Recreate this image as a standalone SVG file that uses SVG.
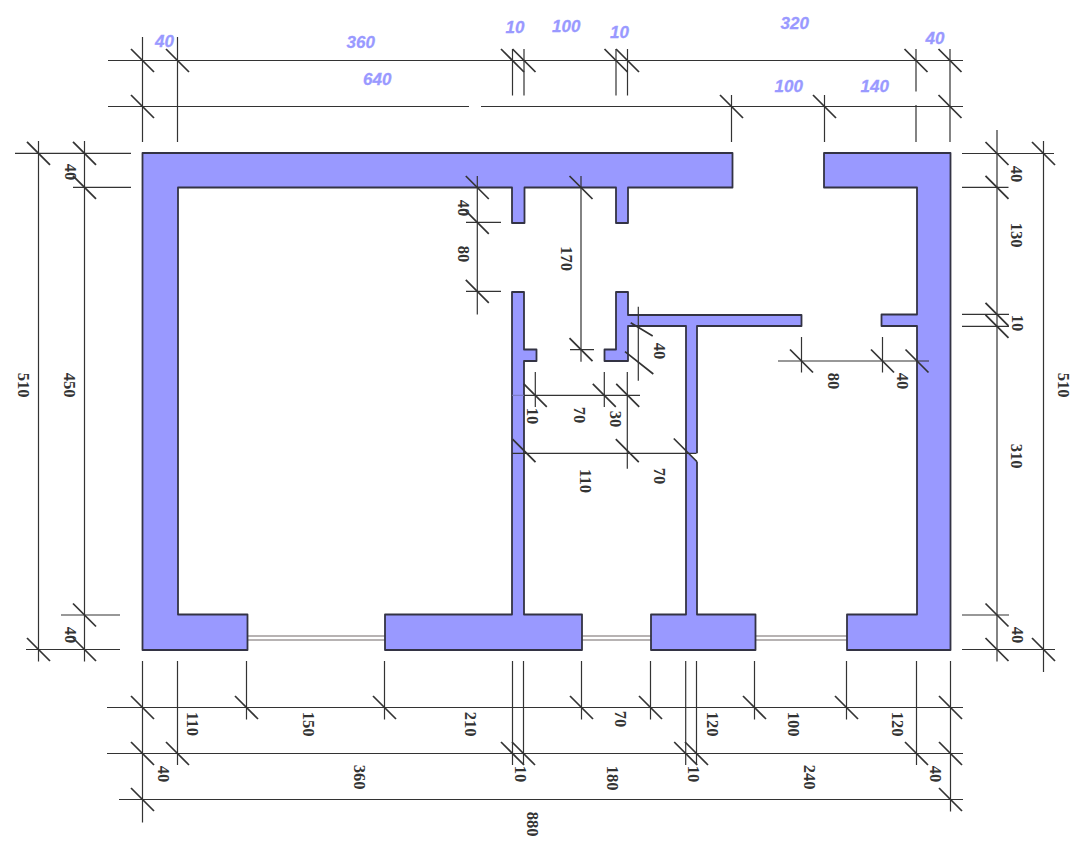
<svg xmlns="http://www.w3.org/2000/svg" width="1074" height="854" viewBox="0 0 1074 854">
<style>
.wall{fill:#9999ff;stroke:#333344;stroke-width:1.8;stroke-linejoin:round}
.dim{fill:none;stroke:#333;stroke-width:1.2}
.tick{fill:none;stroke:#333;stroke-width:1.7}
.faint{fill:none;stroke:#7777bb;stroke-width:1}
.win{fill:none;stroke:#a09a9a;stroke-width:1.5}
.winw{fill:none;stroke:#fff;stroke-width:1.5}
.b{font-family:"Liberation Sans",Arial,sans-serif;font-size:17px;font-weight:bold;font-style:italic;fill:#9999ff;stroke:#9999ff;stroke-width:.3}
.k{font-family:"Liberation Serif","Times New Roman",serif;font-size:16.5px;font-weight:bold;fill:#333;text-anchor:middle}
</style>
<defs><path id="t" class="tick" d="M-11.5-11.5L11.5 11.5"/></defs>
<rect width="1074" height="854" fill="#fff"/>
<g id="windows">
<path class="win" d="M248 636H385M248 640H385M582 636H651M582 640H651M755 636H847M755 640H847"/>
<path class="winw" d="M248 638H385M582 638H651M755 638H847"/>
</g>
<g id="walls">
<path id="wall-left" class="wall" d="M142.5 153H732.5V187.5H628V223H616V187.5H524.5V223H512V187.5H178V614.5H247.5V650H142.5Z"/>
<path id="wall-right" class="wall" d="M824 153H950.5V650H847V614.5H917V326H881.5V314.5H917V187.5H824Z"/>
<path id="wall-mid" class="wall" d="M385 614.5H512V292H524V349.5H536.5V361H524V614.5H582V650H385Z"/>
<path id="wall-inner" class="wall" d="M616 292H628V315H801.5V326H697V614.5H755.5V650H651V614.5H686V326H628V361H604.5V349.5H616Z"/>
<path fill="#fff" d="M688.7 453.3H698V462Z"/>
</g>
<g id="connectors">
<path class="faint" d="M512 395.3H524"/>
<path class="dim" d="M108 60.5H963M108 106.5H469M481 106.5H963
M142.5 37V142M177.5 37V142M512.5 49V95.5M524 49V95.5M616 49V95.5M627.5 49V95.5M731.5 95V142M824.5 95V142M916 49V91.5M916 105V142M950 49V142
M15 153.3H131M73 187.3H131M61 615H120M26 649.5H120M38.5 141V661.5M84.5 141V661.5
M962 153.5H1054M962 187.3H1008.5M962 314.3H1009M962 326.3H1009M962 615H1009M962 649.5H1055M997 130V661.5M1043.5 141V672
M107 707.5H963M107 753.5H963M119 799.5H963
M142.5 661V822.5M177.5 661V765M246.5 661V719.5M384.5 661V719.5M512.5 661V765M523.5 661V765M581.5 661V719.5M650.5 661V719.5M685.7 661V765M696.5 661V765M754.5 661V719.5M846.5 661V719.5M916.5 661V765M950.5 661V811.5
M477.3 176V314.5M466 222.3H501M466 291.3H501M581 176V361.7M570 349.7H594M638.3 306.7V380.7
M524 395.3H640M535.3 372V407M604.3 372V407M627.3 372V468.7M512 453.3H696.5
M778 361H929M801.5 337V372.5M882.5 337V372.5"/>
<use href="#t" x="142.5" y="60.5"/><use href="#t" x="177.5" y="60.5"/><use href="#t" x="512.5" y="60.5"/><use href="#t" x="524" y="60.5"/><use href="#t" x="616" y="60.5"/><use href="#t" x="627.5" y="60.5"/><use href="#t" x="916" y="60.5"/><use href="#t" x="950" y="60.5"/>
<use href="#t" x="142.5" y="106.5"/><use href="#t" x="731.5" y="106.5"/><use href="#t" x="824.5" y="106.5"/><use href="#t" x="950" y="106.5"/>
<use href="#t" x="38.5" y="153.3"/><use href="#t" x="84.5" y="153.3"/><use href="#t" x="84.5" y="187.3"/><use href="#t" x="84.5" y="615"/><use href="#t" x="38.5" y="649.5"/><use href="#t" x="84.5" y="649.5"/>
<use href="#t" x="997" y="153.5"/><use href="#t" x="1043.5" y="153.5"/><use href="#t" x="997" y="187.3"/><use href="#t" x="997" y="314.3"/><use href="#t" x="997" y="326.3"/><use href="#t" x="997" y="615"/><use href="#t" x="997" y="649.5"/><use href="#t" x="1043.5" y="649.5"/>
<use href="#t" x="142.5" y="707.5"/><use href="#t" x="246.5" y="707.5"/><use href="#t" x="384.5" y="707.5"/><use href="#t" x="581.5" y="707.5"/><use href="#t" x="650.5" y="707.5"/><use href="#t" x="754.5" y="707.5"/><use href="#t" x="846.5" y="707.5"/><use href="#t" x="950.5" y="707.5"/>
<use href="#t" x="142.5" y="753.5"/><use href="#t" x="177.5" y="753.5"/><use href="#t" x="512.5" y="753.5"/><use href="#t" x="523.5" y="753.5"/><use href="#t" x="685.7" y="753.5"/><use href="#t" x="696.5" y="753.5"/><use href="#t" x="916.5" y="753.5"/><use href="#t" x="950.5" y="753.5"/>
<use href="#t" x="142.5" y="799.5"/><use href="#t" x="950.5" y="799.5"/>
<use href="#t" x="477.3" y="187.5"/><use href="#t" x="477.3" y="222.3"/><use href="#t" x="477.3" y="291.3"/><use href="#t" x="581" y="187.5"/><use href="#t" x="581" y="349.7"/>
<use href="#t" x="535.3" y="395.3"/><use href="#t" x="604.3" y="395.3"/><use href="#t" x="627.7" y="395.3"/>
<use href="#t" x="524" y="450.7"/><use href="#t" x="627.3" y="450.7"/><use href="#t" x="685.3" y="450"/>
<use href="#t" x="801.5" y="361"/><use href="#t" x="882.5" y="361"/><use href="#t" x="917" y="361"/>
<path class="tick" d="M630.7 322.7L652.7 336M625 351.7L653.3 374"/>
</g>
<g id="labels-top">
<text class="b" x="155" y="47">40</text><text class="b" x="346.5" y="48">360</text><text class="b" x="363" y="85">640</text><text class="b" x="505.5" y="33">10</text><text class="b" x="552" y="32">100</text><text class="b" x="610" y="38">10</text><text class="b" x="780.5" y="29">320</text><text class="b" x="925.5" y="44">40</text><text class="b" x="774.5" y="92">100</text><text class="b" x="860.5" y="92">140</text>
</g>
<g id="labels-dim" transform="translate(1.5 0)">
<text class="k" transform="translate(63 172) rotate(90)">40</text>
<text class="k" transform="translate(16 385) rotate(90)">510</text>
<text class="k" transform="translate(62 385) rotate(90)">450</text>
<text class="k" transform="translate(63 635) rotate(90)">40</text>
<text class="k" transform="translate(456 208) rotate(90)">40</text>
<text class="k" transform="translate(456 254) rotate(90)">80</text>
<text class="k" transform="translate(559 258.5) rotate(90)">170</text>
<text class="k" transform="translate(652 351) rotate(90)">40</text>
<text class="k" transform="translate(525 416) rotate(90)">10</text>
<text class="k" transform="translate(572 415) rotate(90)">70</text>
<text class="k" transform="translate(608 419) rotate(90)">30</text>
<text class="k" transform="translate(578 481) rotate(90)">110</text>
<text class="k" transform="translate(652 476) rotate(90)">70</text>
<text class="k" transform="translate(826 381) rotate(90)">80</text>
<text class="k" transform="translate(895 381) rotate(90)">40</text>
<text class="k" transform="translate(1010 323) rotate(90)">10</text>
<text class="k" transform="translate(1056 385) rotate(90)">510</text>
<text class="k" transform="translate(1009 174) rotate(90)">40</text>
<text class="k" transform="translate(1009 235) rotate(90)">130</text>
<text class="k" transform="translate(1009 456) rotate(90)">310</text>
<text class="k" transform="translate(1010 635) rotate(90)">40</text>
<text class="k" transform="translate(185 724) rotate(90)">110</text>
<text class="k" transform="translate(301 724) rotate(90)">150</text>
<text class="k" transform="translate(463 724) rotate(90)">210</text>
<text class="k" transform="translate(613.5 719) rotate(90)">70</text>
<text class="k" transform="translate(705 724) rotate(90)">120</text>
<text class="k" transform="translate(786 724) rotate(90)">100</text>
<text class="k" transform="translate(890 724) rotate(90)">120</text>
<text class="k" transform="translate(156 774) rotate(90)">40</text>
<text class="k" transform="translate(352 777) rotate(90)">360</text>
<text class="k" transform="translate(513.5 774) rotate(90)">10</text>
<text class="k" transform="translate(605 778) rotate(90)">180</text>
<text class="k" transform="translate(686 774) rotate(90)">10</text>
<text class="k" transform="translate(802 777) rotate(90)">240</text>
<text class="k" transform="translate(928.5 774) rotate(90)">40</text>
<text class="k" transform="translate(525 824) rotate(90)">880</text>
</g>
</svg>
